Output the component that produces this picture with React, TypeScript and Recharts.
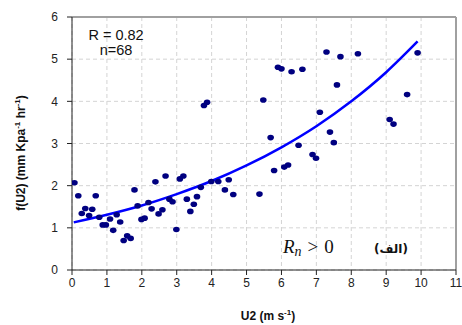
import {
  CartesianGrid,
  ComposedChart,
  Line,
  ReferenceLine,
  Scatter,
  XAxis,
  YAxis,
} from "recharts";
import { JSX } from "react";

const u2 = [
  0.07, 0.18, 0.28, 0.38, 0.49, 0.58, 0.68, 0.78, 0.88, 0.97,
  1.09, 1.18, 1.28, 1.38, 1.48, 1.58, 1.68, 1.79, 1.88, 1.99,
  2.08, 2.19, 2.28, 2.39, 2.48, 2.59, 2.68, 2.79, 2.88, 2.99,
  3.09, 3.19, 3.29, 3.39, 3.49, 3.58, 3.69, 3.78, 3.87, 3.99,
  4.19, 4.38, 4.49, 4.62, 5.37, 5.48, 5.69, 5.79, 5.9, 6.0,
  6.08, 6.19, 6.29, 6.49, 6.6, 6.89, 6.99, 7.1, 7.29, 7.39,
  7.5, 7.59, 7.69, 8.19, 9.1, 9.21, 9.6, 9.9,
];
const fU2 = [
  2.07, 1.76, 1.34, 1.46, 1.29, 1.44, 1.76, 1.25, 1.07, 1.07,
  1.21, 0.94, 1.31, 1.14, 0.7, 0.81, 0.75, 1.9, 1.52, 1.2,
  1.23, 1.6, 1.45, 2.09, 1.33, 1.43, 2.23, 1.68, 1.62, 0.96,
  2.16, 2.23, 1.68, 1.39, 1.56, 1.74, 1.96, 3.9, 3.98, 2.1,
  2.1, 1.9, 2.14, 1.79, 1.8, 4.03, 3.14, 2.36, 4.81, 4.77,
  2.44, 2.49, 4.7, 2.96, 4.76, 2.74, 2.65, 3.74, 5.17, 3.27,
  3.02, 4.39, 5.06, 5.13, 3.57, 3.46, 4.16, 5.15,
];

// fitted curve
const fitU2 = [0.05, 1, 2, 3, 4, 5, 6, 7, 8, 9, 9.9];
const fitVal = [1.13, 1.31, 1.53, 1.8, 2.11, 2.48, 2.91, 3.41, 4.0, 4.69, 5.42];

const xTicks = [0, 1, 2, 3, 4, 5, 6, 7, 8, 9, 10, 11];
const yTicks = [0, 1, 2, 3, 4, 5, 6];

const points = u2.map((x, i) => ({ x, y: fU2[i] }));
const fit = fitU2.map((x, i) => ({ x, y: fitVal[i] }));

const tickStyle = { fontSize: 12, fill: "#222", fontFamily: "Liberation Sans, Arial, sans-serif" };

const Dot = (props: any) => (
  <ellipse cx={props.cx} cy={props.cy} rx={3.3} ry={2.8} fill="#000080" />
);

export default function App(): JSX.Element {
  return (
    <div style={{ position: "absolute", left: 0, top: 0, width: 462, height: 325, background: "#fff" }}>
      <ComposedChart
        width={462}
        height={325}
        margin={{ top: 17, right: 6, left: 0, bottom: 25 }}
      >
        <CartesianGrid stroke="#d4d4d4" strokeDasharray="4 3" />
        <XAxis
          type="number"
          dataKey="x"
          domain={[0, 11]}
          ticks={xTicks}
          height={30}
          tickSize={5}
          tickMargin={3}
          stroke="#222"
          tick={tickStyle}
          allowDataOverflow
        />
        <YAxis
          type="number"
          dataKey="y"
          domain={[0, 6]}
          ticks={yTicks}
          width={72}
          tickSize={5}
          tickMargin={9}
          stroke="#222"
          tick={tickStyle}
          allowDataOverflow
        />
        <ReferenceLine y={6} stroke="#a0a0a0" strokeWidth={2} />
        <ReferenceLine x={11} stroke="#a0a0a0" strokeWidth={2} />
        <Scatter data={points} dataKey="y" shape={Dot} isAnimationActive={false} />
        <Line
          data={fit}
          dataKey="y"
          type="monotone"
          stroke="#0000ff"
          strokeWidth={2.5}
          dot={false}
          isAnimationActive={false}
        />
      </ComposedChart>
      <svg
        width={462}
        height={325}
        style={{ position: "absolute", left: 0, top: 0, pointerEvents: "none" }}
      >
        <g fontFamily="Liberation Sans, Arial, sans-serif" fill="#111">
          <text x={116} y={40} fontSize={14.5} textAnchor="middle">R = 0.82</text>
          <text x={116} y={55} fontSize={14.5} textAnchor="middle">n=68</text>
          <text x={268} y={320} fontSize={12} fontWeight="bold" textAnchor="middle">
            U2 (m s<tspan fontSize={8} dy={-5}>-1</tspan><tspan dy={5}>)</tspan>
          </text>
          <text
            x={0}
            y={0}
            fontSize={12}
            fontWeight="bold"
            textAnchor="middle"
            transform="translate(25 153) rotate(-90)"
          >
            f(U2) (mm Kpa<tspan fontSize={8} dy={-5}>-1</tspan>
            <tspan dy={5}> hr</tspan>
            <tspan fontSize={8} dy={-5}>-1</tspan>
            <tspan dy={5}>)</tspan>
          </text>
        </g>
        <text x={283} y={253} fontFamily="Liberation Serif, serif" fontSize={19} fill="#111">
          <tspan fontStyle="italic">R</tspan>
          <tspan fontStyle="italic" fontSize={14} dy={3}>n</tspan>
          <tspan dy={-3} dx={6}>&gt;</tspan>
          <tspan dx={6}>0</tspan>
        </text>
        <text
          x={391}
          y={253}
          fontFamily="DejaVu Sans, sans-serif"
          fontSize={12}
          fontWeight="bold"
          fill="#111"
          textAnchor="middle"
          direction="rtl"
        >
          (الف)
        </text>
      </svg>
    </div>
  );
}
